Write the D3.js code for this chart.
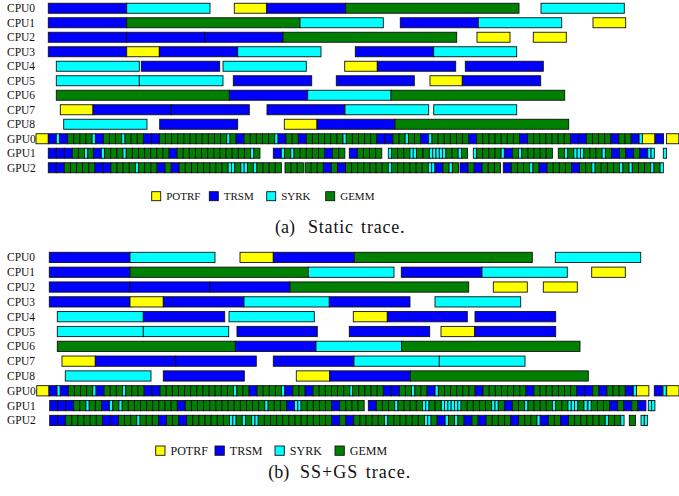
<!DOCTYPE html>
<html><head><meta charset="utf-8">
<script src="https://cdn.jsdelivr.net/npm/d3@7"></script>
<style>body{margin:0;background:#fff} svg{display:block}</style>
</head><body>
<script>
// ---------- data ----------
const rows = ["CPU0","CPU1","CPU2","CPU3","CPU4","CPU5","CPU6","CPU7","CPU8","GPU0","GPU1","GPU2"];
const kernels = ["POTRF","TRSM","SYRK","GEMM"];
const kernelColors = ["#ffff00","#0000ff","#00ffff","#008000"];
const codeToKernel = {P:"POTRF", T:"TRSM", S:"SYRK", G:"GEMM"};
// GPU kernel durations (time units)
const gpuDurations = {P:12.3, T:8, S:3.3, G:6.12};
const timeMax = 643;

// (a) Static trace — CPU tasks: [row, start, end, kernel]
const staticCpu = [
  ["CPU0",12.3,90.7,"T"],["CPU0",90.7,174,"S"],["CPU0",198.3,230.7,"P"],["CPU0",230.7,309.7,"T"],["CPU0",309.7,483,"G"],["CPU0",505,588.3,"S"],
  ["CPU1",12.3,90.7,"T"],["CPU1",90.7,264,"G"],["CPU1",264,347.3,"S"],["CPU1",364.3,442.3,"T"],["CPU1",442.3,525.7,"S"],["CPU1",557,589.7,"P"],
  ["CPU2",12.3,90.7,"T"],["CPU2",90.7,168.7,"T"],["CPU2",168.7,247,"T"],["CPU2",247,420.7,"G"],["CPU2",441,474,"P"],["CPU2",497.3,530.3,"P"],
  ["CPU3",12.3,90.7,"T"],["CPU3",90.7,123.3,"P"],["CPU3",123.3,201.7,"T"],["CPU3",201.7,285,"S"],["CPU3",319.3,397.7,"T"],["CPU3",397.7,480.7,"S"],
  ["CPU4",20.3,103.3,"S"],["CPU4",105.3,183.7,"T"],["CPU4",187,270.3,"S"],["CPU4",308.7,341.3,"P"],["CPU4",341.3,419.7,"T"],["CPU4",429.3,507.3,"T"],
  ["CPU5",20.3,103.3,"S"],["CPU5",103.3,187,"S"],["CPU5",197.3,275.7,"T"],["CPU5",300.3,378.3,"T"],["CPU5",394,426.3,"P"],["CPU5",426.3,504.7,"T"],
  ["CPU6",20.3,193.3,"G"],["CPU6",193.3,271.7,"T"],["CPU6",271.7,355,"S"],["CPU6",355,528.7,"G"],
  ["CPU7",24.3,57,"P"],["CPU7",57,135.3,"T"],["CPU7",135.3,213.3,"T"],["CPU7",231,309,"T"],["CPU7",309,392.7,"S"],["CPU7",397.7,480.7,"S"],
  ["CPU8",27.7,111,"S"],["CPU8",123.7,201.7,"T"],["CPU8",248.3,281,"P"],["CPU8",281,359,"T"],["CPU8",359,532.7,"G"]
];
// (a) Static trace — GPU runs: [row, start, kernel sequence]
const staticGpu = [
  ["GPU0",0,"PTSTGGGGSTGGGSGGGTTGGGGGGGGGGGSGTGGGGGSTGGTGGGGGGSGGGGGTTGGSGGTSGGGGGGTGGGGGGGTGGGGGGGTTGGGGTGGTSP"],
  ["GPU0",619.5,"T"],["GPU0",630.5,"P"],
  ["GPU1",12.3,"TTTGGSG"],["GPU1",57.3,"TSGGGSGGGGGGGTGGGGGGGGGGGGSG"],["GPU1",237.3,"TSGSGGGGGTGG"],
  ["GPU1",313.3,"TGGGG"],["GPU1",352.3,"SGGGSSG"],["GPU1",387.3,"GSSSSSGGSG"],["GPU1",437.3,"SGGGGSTGSGGGGG"],
  ["GPU1",522.3,"GSGSSSGGGSG"],["GPU1",575.5,"TGTGTSS"],["GPU1",627.3,"S"],
  ["GPU2",12.3,"TTGGGGGTTGGGGSGGGTGTGGGGGGGGSSGSSGSGGGG"],["GPU2",249,"GGG"],
  ["GPU2",269,"GGGTGTGGGGGGGSGGGGGGSSTGSG"],["GPU2",424,"TGTG"],["GPU2",452.3,"GG"],
  ["GPU2",467.3,"TGGGSGTGGGGTGGSGGGGSGSGGGSGS"]
];

// (b) SS+GS trace — CPU tasks
const ssgsCpu = [
  ["CPU0",13.3,94,"T"],["CPU0",94,179,"S"],["CPU0",204,237.3,"P"],["CPU0",237.3,318.3,"T"],["CPU0",318.3,496.3,"G"],["CPU0",519.3,604.7,"S"],
  ["CPU1",13.3,94,"T"],["CPU1",94,272.3,"G"],["CPU1",272.3,358,"S"],["CPU1",365.3,446,"T"],["CPU1",446,531.3,"S"],["CPU1",555.7,589.3,"P"],
  ["CPU2",13.3,94,"T"],["CPU2",94,174,"T"],["CPU2",174,254,"T"],["CPU2",254,432.7,"G"],["CPU2",457.3,491.3,"P"],["CPU2",507.3,541.3,"P"],
  ["CPU3",13.3,94,"T"],["CPU3",94,127.3,"P"],["CPU3",127.3,208,"T"],["CPU3",208,293.3,"S"],["CPU3",293.3,374,"T"],["CPU3",399,484.7,"S"],
  ["CPU4",21.3,107.3,"S"],["CPU4",107.3,188.7,"T"],["CPU4",193,278.3,"S"],["CPU4",317.3,351.3,"P"],["CPU4",351.3,431.3,"T"],["CPU4",439,519.7,"T"],
  ["CPU5",21.3,107.3,"S"],["CPU5",107.3,192.7,"S"],["CPU5",201,281.3,"T"],["CPU5",313.3,393.7,"T"],["CPU5",405,438.7,"P"],["CPU5",438.7,519.7,"T"],
  ["CPU6",21.3,199.3,"G"],["CPU6",199.3,280,"T"],["CPU6",280,365.7,"S"],["CPU6",365.7,544,"G"],
  ["CPU7",26,59.3,"P"],["CPU7",59.3,139.7,"T"],["CPU7",139.7,220.3,"T"],["CPU7",237.3,318,"T"],["CPU7",318,403.3,"S"],["CPU7",403.3,489,"S"],
  ["CPU8",29.3,115,"S"],["CPU8",127.3,208.3,"T"],["CPU8",260.3,293.7,"P"],["CPU8",293.7,374.3,"T"],["CPU8",374.3,552.3,"G"]
];
// (b) SS+GS trace — GPU runs
const ssgsGpu = [
  ["GPU0",0.7,"PTSTGGGGSTGGGSGGGTTGGGGGGGGGGGGSGGTGGGGSTGGTGGGGGGS"],
  ["GPU0",316.7,"GGGGGTTGGSGGTSGGGGGGTGGGGGGGTGGGGGGGTTGTGGGTSP"],
  ["GPU0",618.3,"T"],["GPU0",627,"S"],["GPU0",630.7,"P"],
  ["GPU1",13.7,"TTTGGSGGTSGSGGGGGGGGGTGGGGGGGGGGGGGSGGGTSSGGGGGTGGGG"],
  ["GPU1",332.3,"TGGGSGGGGSSGGSSSSSSGGGGGSSGTGGSGGGGSGGSSSGS"],
  ["GPU1",552,"SGGGTGTGT"],["GPU1",612.3,"SS"],
  ["GPU2",13.7,"TTGGGGGGTTGGGSGGGTGGTGGGGGGGSSGSGSSGGGGGGGGGGGGTGTGGGGGSGGGGGGSSGTSGSGTGTGGGGTGGGSTGGTGGGGGGSGGS"],
  ["GPU2",593.3,"G"],["GPU2",605,"SS"]
];

const captions = [["(a)","Static trace."],["(b)","SS+GS trace."]];

// ---------- drawing ----------
const W = 679, H = 496;
const svg = d3.select("body").append("svg").attr("width", W).attr("height", H)
  .style("font-family", "'Liberation Serif','Times New Roman',serif");
const color = d3.scaleOrdinal().domain(kernels).range(kernelColors);
const x = d3.scaleLinear().domain([0, timeMax]).range([36, 679]);

function expandGpu(segs){
  const out = [];
  segs.forEach(([row, start, seq]) => {
    let t = start;
    for (const c of seq) { const d = gpuDurations[c]; out.push({row, start: t, end: t + d, kernel: codeToKernel[c]}); t += d; }
  });
  return out;
}
function cpuTasks(list){ return list.map(([row,start,end,c]) => ({row, start, end, kernel: codeToKernel[c]})); }

function panel(cfg){
  const g = svg.append("g");
  const y = d3.scaleBand().domain(rows).range(cfg.yRange).paddingInner(0.31).paddingOuter(0.155);
  g.selectAll("text.row").data(rows).join("text").attr("class","row")
    .attr("x", 7).attr("y", d => y(d) + y.bandwidth()/2 + 4)
    .attr("font-size", 11.5).attr("fill","#111").text(d => d);
  const tasks = cpuTasks(cfg.cpu).concat(expandGpu(cfg.gpu));
  g.selectAll("rect.task").data(tasks).join("rect").attr("class","task")
    .attr("x", d => x(d.start)).attr("y", d => y(d.row))
    .attr("width", d => x(d.end) - x(d.start)).attr("height", y.bandwidth())
    .attr("fill", d => color(d.kernel)).attr("stroke", "#111").attr("stroke-width", 0.9);
  // legend
  const lg = g.append("g");
  kernels.forEach((k, i) => {
    lg.append("rect").attr("x", cfg.legX[i]).attr("y", cfg.legY).attr("width", cfg.legSize).attr("height", cfg.legSize)
      .attr("fill", color(k)).attr("stroke", "#111").attr("stroke-width", 0.9);
    lg.append("text").attr("x", cfg.legX[i] + cfg.legSize + 5.5).attr("y", cfg.legY + cfg.legSize - 0.3)
      .attr("font-size", cfg.legFont).attr("fill","#111").text(k);
  });
  g.append("text").attr("x", cfg.capX[0]).attr("y", cfg.capY).attr("font-size", cfg.capFont).attr("fill","#111").text(cfg.caption[0]);
  g.append("text").attr("x", cfg.capX[1]).attr("y", cfg.capY).attr("font-size", cfg.capFont).attr("fill","#111")
    .attr("letter-spacing", cfg.letterSpacing).attr("word-spacing", 2).text(cfg.caption[1]);
}

panel({yRange:[1, 1 + 12*14.5], cpu: staticCpu, gpu: staticGpu,
  legX:[151.7, 209.3, 266.7, 325.7], legY: 191.7, legSize: 9, legFont: 11,
  caption: captions[0], capX:[275, 308], capY: 233, capFont: 18, letterSpacing: 0.8});
panel({yRange:[250, 250 + 12*14.82], cpu: ssgsCpu, gpu: ssgsGpu,
  legX:[155.7, 215, 275, 335], legY: 446, legSize: 9.3, legFont: 12,
  caption: captions[1], capX:[268.3, 300], capY: 478, capFont: 18, letterSpacing: 1});
</script>
</body></html>
